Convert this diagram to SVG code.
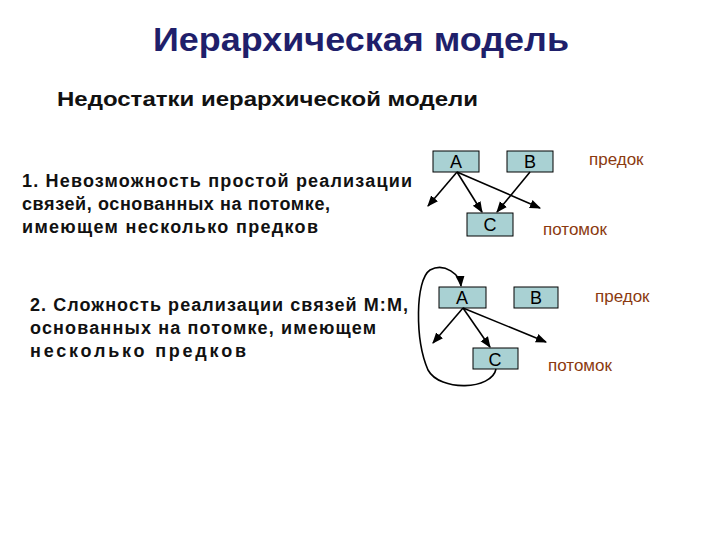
<svg xmlns="http://www.w3.org/2000/svg" width="720" height="540" viewBox="0 0 720 540">
<defs><marker id="ar" viewBox="0 0 10 10" refX="9" refY="5" markerWidth="7" markerHeight="7" orient="auto"><path d="M0,1 L10,5 L0,9 z" fill="#000"/></marker></defs>
<style>
.t{font-family:"Liberation Sans",Arial,sans-serif}
.h{font-size:18px;font-weight:bold;fill:#111}
.b{fill:#a9d1d3;stroke:#000;stroke-width:1}
.n{font-size:18px;fill:#000;text-anchor:middle}
.l{font-size:17px;fill:#8b3a10}
.c{stroke:#000;stroke-width:1.6;fill:none;marker-end:url(#ar)}
</style>
<rect width="720" height="540" fill="#fff"/>
<text class="t" x="153" y="51" font-size="33" font-weight="bold" fill="#1f1f6b" textLength="416" lengthAdjust="spacingAndGlyphs">Иерархическая модель</text>
<text class="t" x="57" y="106" font-size="20" font-weight="bold" fill="#111" textLength="421" lengthAdjust="spacingAndGlyphs">Недостатки иерархической модели</text>
<g id="text1" class="t h"><text x="22" y="187" textLength="390">1. Невозможность простой реализации</text><text x="22" y="210" textLength="308">связей, основанных на потомке,</text><text x="22" y="233" textLength="296">имеющем несколько предков</text></g>
<g id="text2" class="t h"><text x="30" y="311" textLength="378">2. Сложность реализации связей М:М,</text><text x="30" y="334" textLength="346">основанных на потомке, имеющем</text><text x="30" y="357" textLength="216">несколько предков</text></g>
<g id="A1"><rect class="b" x="433" y="151" width="46" height="21"/><text class="t n" x="456" y="168">A</text></g>
<g id="B1"><rect class="b" x="507" y="151" width="46" height="21"/><text class="t n" x="530" y="168">B</text></g>
<g id="C1"><rect class="b" x="467" y="213" width="46" height="23"/><text class="t n" x="490" y="231">C</text></g>
<g id="A2"><rect class="b" x="439" y="287" width="47" height="21"/><text class="t n" x="462" y="304">A</text></g>
<g id="B2"><rect class="b" x="514" y="287" width="44" height="21"/><text class="t n" x="536" y="304">B</text></g>
<g id="C2"><rect class="b" x="473" y="348" width="45" height="21"/><text class="t n" x="495" y="366">C</text></g>
<g id="labels" class="t l"><text x="589" y="165">предок</text><text x="543" y="235">потомок</text><text x="595" y="302">предок</text><text x="548" y="371">потомок</text></g>
<g id="connectors">
<path class="c" d="M457,172 L428,206"/><path class="c" d="M457,172 L482,212"/><path class="c" d="M457,172 L540,208"/><path class="c" d="M530,172 L497,212"/>
<path class="c" d="M463,308 L433,343"/><path class="c" d="M463,308 L490,347"/><path class="c" d="M463,308 L546,342"/>
<path class="c" d="M496,369 C492,390 440,392 428,370 C415,340 415,280 430,270 C445,262 460,275 461,286"/>
</g>
</svg>
